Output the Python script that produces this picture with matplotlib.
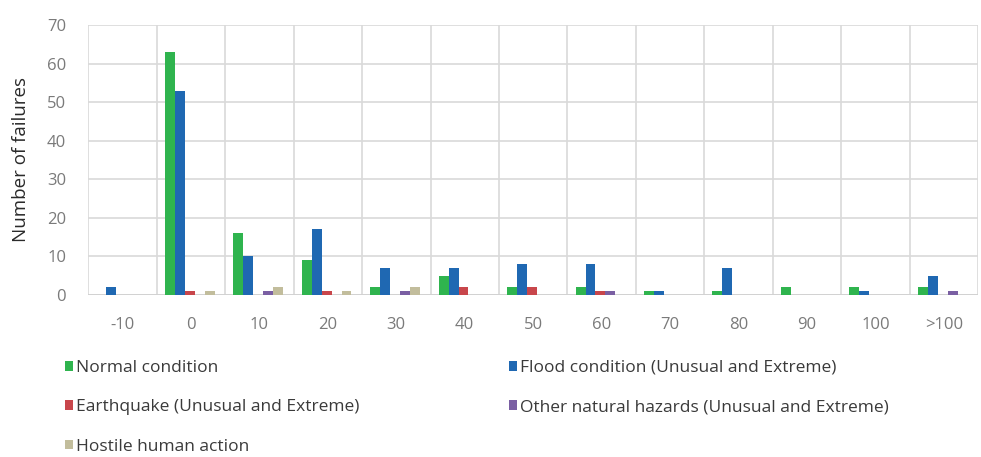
import matplotlib
matplotlib.use('Agg')
import matplotlib.pyplot as plt
import numpy as np

# Failures per category of dam height change
categories = ['-10', '0', '10', '20', '30', '40', '50', '60', '70', '80', '90', '100', '>100']
normal = [0, 63, 16, 9, 2, 5, 2, 2, 1, 1, 2, 2, 2]
flood = [2, 53, 10, 17, 7, 7, 8, 8, 1, 7, 0, 1, 5]
earthquake = [0, 1, 0, 1, 0, 2, 2, 1, 0, 0, 0, 0, 0]
other_natural = [0, 0, 1, 0, 1, 0, 0, 1, 0, 0, 0, 0, 1]
hostile = [0, 1, 2, 1, 2, 0, 0, 0, 0, 0, 0, 0, 0]

series_names = ['Normal condition', 'Flood condition (Unusual and Extreme)',
                'Earthquake (Unusual and Extreme)', 'Other natural hazards (Unusual and Extreme)',
                'Hostile human action']
colors = ['#2fb44e', '#1f68b2', '#c8464b', '#7a5fa3', '#c2bd9c']

plt.rcParams['font.family'] = ['Open Sans', 'DejaVu Sans']

fig = plt.figure(figsize=(9.81, 4.57), dpi=100)
ax = fig.add_axes([0.09, 0.355, 0.907, 0.59])

x = np.arange(len(categories))
width = 0.145
offset0 = -0.5 + 0.12 + width / 2
series = [normal, flood, earthquake, other_natural, hostile]
for i, (vals, name, col) in enumerate(zip(series, series_names, colors)):
    ax.bar(x + offset0 + i * width, vals, width, color=col, label=name, zorder=3)

ax.set_xlim(-0.5, len(categories) - 0.5)
ax.set_ylim(0, 70)
ax.set_yticks(range(0, 71, 10))
ax.set_xticks(x)
ax.set_xticklabels(categories)
ax.set_xticks(np.arange(-0.5, len(categories), 1), minor=True)
ax.grid(which='minor', axis='x', color='#d9d9d9', linewidth=1.2, zorder=0)
ax.grid(which='major', axis='y', color='#d9d9d9', linewidth=1.2, zorder=0)
ax.tick_params(which='both', length=0, labelsize=12, colors='#7a7a7a')
ax.tick_params(axis='x', pad=16)
ax.tick_params(axis='y', pad=16)
for s in ax.spines.values():
    s.set_visible(False)
ax.axhline(0, color='#d0d0d0', linewidth=1.2, zorder=2)
ax.set_ylabel('Number of failures', fontsize=13.5, color='#2a2a2a', labelpad=12)

# reorder so legend reads row by row like the original
handles, labels = ax.get_legend_handles_labels()
order = [0, 2, 4, 1, 3]
fig.legend([handles[i] for i in order], [labels[i] for i in order],
           loc='upper left', bbox_to_anchor=(0.05, 0.247),
           ncol=2, frameon=False, fontsize=12.5, handlelength=0.5, handleheight=0.5,
           handletextpad=0.15, columnspacing=8.6, labelspacing=1.35, labelcolor='#3a3a3a')

fig.savefig('out.png', dpi=100)
